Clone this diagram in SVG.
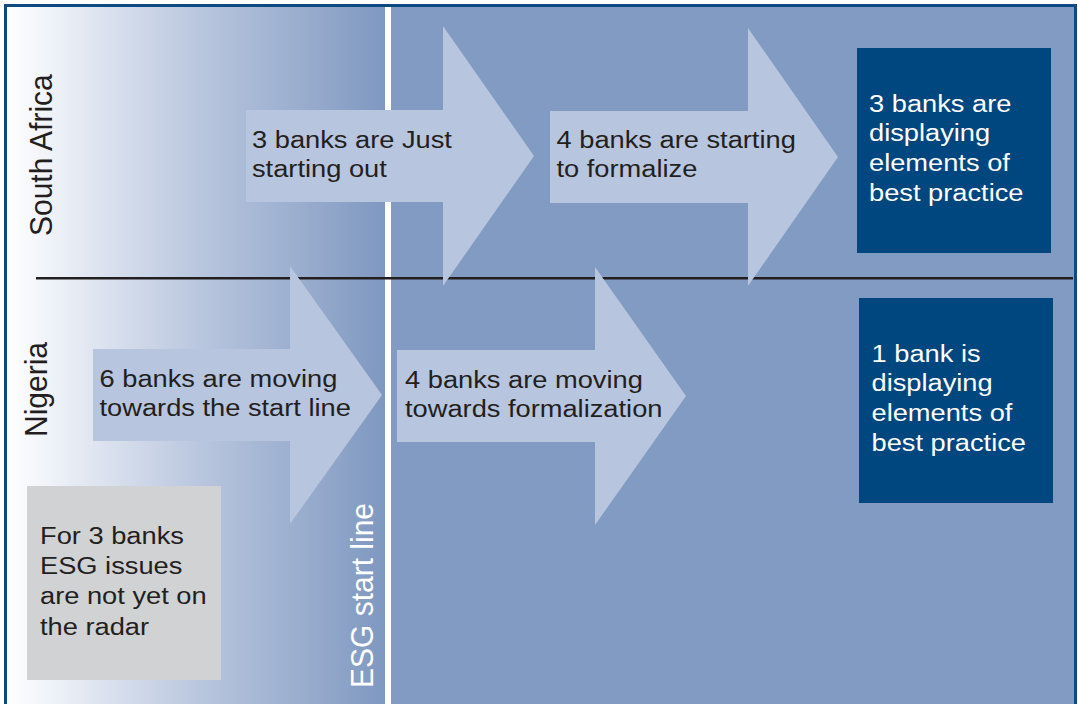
<svg xmlns="http://www.w3.org/2000/svg" width="1078" height="704" viewBox="0 0 1078 704">
  <style>
    .lbl { font-family: "Liberation Sans", Arial, Helvetica, sans-serif; font-size: 23.5px; fill: #231f20; }
    .lbl-w { font-family: "Liberation Sans", Arial, Helvetica, sans-serif; font-size: 23.5px; fill: #ffffff; }
    .side { font-family: "Liberation Sans", Arial, Helvetica, sans-serif; font-size: 30px; fill: #231f20; }
    .side-w { font-family: "Liberation Sans", Arial, Helvetica, sans-serif; font-size: 30px; fill: #ffffff; }
    .arrow { fill: #b8c5de; }
    .best { fill: #00467f; }
    .grey { fill: #d1d2d4; }
  </style>
  <defs>
    <linearGradient id="preStart" x1="7" y1="0" x2="385" y2="0" gradientUnits="userSpaceOnUse">
      <stop offset="0" stop-color="#ffffff"/>
      <stop offset="0.5" stop-color="#bac7df"/>
      <stop offset="1" stop-color="#7f98c0"/>
    </linearGradient>
  </defs>

  <!-- background panels -->
  <rect x="0" y="0" width="1078" height="704" fill="#ffffff"/>
  <rect x="5" y="5" width="1070" height="720" fill="#819bc2"/>
  <rect x="7" y="7" width="378" height="700" fill="url(#preStart)"/>
  <rect x="5.5" y="5.5" width="1070" height="720" fill="none" stroke="#0e4a82" stroke-width="3"/>

  <!-- start line and country divider -->
  <g id="dividers">
    <rect x="385" y="7" width="6" height="700" fill="#ffffff"/>
    <line x1="36" y1="278.3" x2="1073" y2="278.3" stroke="#231f20" stroke-width="2.5"/>
  </g>

  <!-- row labels -->
  <g id="label-south-africa">
    <text class="side" transform="translate(52,236) scale(1.05,1) rotate(-90)">South Africa</text>
  </g>
  <g id="label-nigeria">
    <text class="side" transform="translate(47,437) scale(1.05,1) rotate(-90)">Nigeria</text>
  </g>
  <g id="label-start-line">
    <text class="side-w" transform="translate(373,688) scale(1.05,1) rotate(-90)">ESG start line</text>
  </g>

  <!-- South Africa stages -->
  <g id="sa-starting-out">
    <polygon class="arrow" points="246,110 443,110 443,26 534,156 443,286 443,202 246,202"/>
    <text class="lbl" transform="matrix(1.16 0 0 1 252 147.5)"><tspan x="0" y="0">3 banks are Just</tspan><tspan x="0" y="29.5">starting out</tspan></text>
  </g>
  <g id="sa-formalize">
    <polygon class="arrow" points="550,111 748,111 748,28 838,157 748,286 748,203 550,203"/>
    <text class="lbl" transform="matrix(1.16 0 0 1 556.5 148)"><tspan x="0" y="0">4 banks are starting</tspan><tspan x="0" y="29.5">to formalize</tspan></text>
  </g>
  <g id="sa-best-practice">
    <rect class="best" x="857" y="48" width="194" height="205"/>
    <text class="lbl-w" transform="matrix(1.16 0 0 1 869 111.5)"><tspan x="0" y="0">3 banks are</tspan><tspan x="0" y="30">displaying</tspan><tspan x="0" y="60">elements of</tspan><tspan x="0" y="90">best practice</tspan></text>
  </g>

  <!-- Nigeria stages -->
  <g id="ng-not-on-radar">
    <rect class="grey" x="27" y="486" width="194" height="194"/>
    <text class="lbl" transform="matrix(1.16 0 0 1 40 543.5)"><tspan x="0" y="0">For 3 banks</tspan><tspan x="0" y="30.5">ESG issues</tspan><tspan x="0" y="61">are not yet on</tspan><tspan x="0" y="91.5">the radar</tspan></text>
  </g>
  <g id="ng-towards-start">
    <polygon class="arrow" points="93,349 290,349 290,266 382,395 290,524 290,441 93,441"/>
    <text class="lbl" transform="matrix(1.16 0 0 1 99.5 387)"><tspan x="0" y="0">6 banks are moving</tspan><tspan x="0" y="29.5">towards the start line</tspan></text>
  </g>
  <g id="ng-towards-formalization">
    <polygon class="arrow" points="397,350 595,350 595,267 686,396 595,525 595,442 397,442"/>
    <text class="lbl" transform="matrix(1.16 0 0 1 405 387.5)"><tspan x="0" y="0">4 banks are moving</tspan><tspan x="0" y="29.5">towards formalization</tspan></text>
  </g>
  <g id="ng-best-practice">
    <rect class="best" x="859" y="298" width="194" height="205"/>
    <text class="lbl-w" transform="matrix(1.16 0 0 1 871.5 361.5)"><tspan x="0" y="0">1 bank is</tspan><tspan x="0" y="30">displaying</tspan><tspan x="0" y="60">elements of</tspan><tspan x="0" y="90">best practice</tspan></text>
  </g>
</svg>
